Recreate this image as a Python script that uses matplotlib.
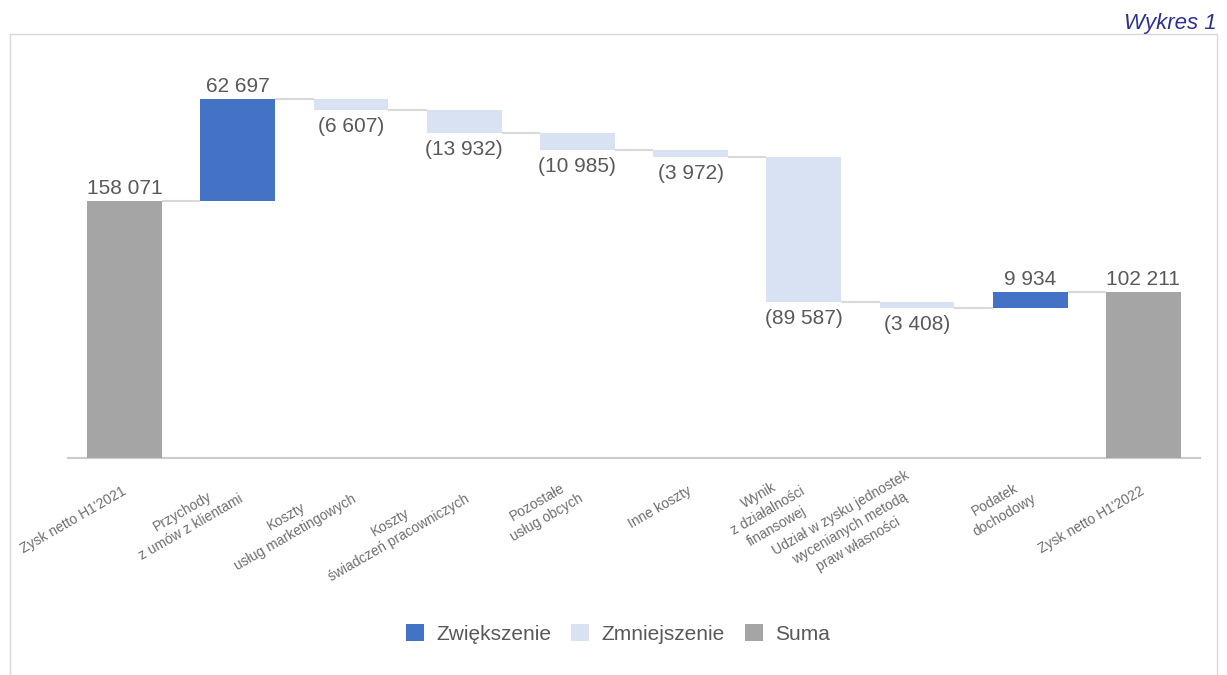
import matplotlib
matplotlib.use("Agg")
import matplotlib.pyplot as plt
from matplotlib.patches import Rectangle, Patch
import numpy as np

plt.rcParams['font.family'] = ['Liberation Sans', 'DejaVu Sans']

categories = [
    "Zysk netto H1'2021",
    "Przychody\nz umów z klientami",
    "Koszty\nusług marketingowych",
    "Koszty\nświadczeń pracowniczych",
    "Pozostałe\nusług obcych",
    "Inne koszty",
    "Wynik\nz działalności\nfinansowej",
    "Udział w zysku jednostek\nwycenianych metodą\npraw własności",
    "Podatek\ndochodowy",
    "Zysk netto H1'2022",
]
values = [158071, 62697, -6607, -13932, -10985, -3972, -89587, -3408, 9934, 102211]
kinds = ["total", "delta", "delta", "delta", "delta", "delta", "delta", "delta", "delta", "total"]

legend_labels = ["Zwiększenie", "Zmniejszenie", "Suma"]
C_UP = "#4472C4"
C_DOWN = "#D9E2F3"
C_TOTAL = "#A5A5A5"
TXT = "#595959"

W, H = 1227, 675
fig = plt.figure(figsize=(W / 100, H / 100), dpi=100)
ax = fig.add_axes([68 / W, (H - 458) / H, 1132 / W, 418 / H])

def fmt(v):
    s = f"{abs(v):,}".replace(",", " ")
    return f"({s})" if v < 0 else s

bw = 0.662
running = 0
bottoms, heights, colors, levels = [], [], [], []
for v, k in zip(values, kinds):
    if k == "total":
        b, h, c = 0, v, C_TOTAL
        running = v
    else:
        if v >= 0:
            b, h, c = running, v, C_UP
        else:
            b, h, c = running + v, -v, C_DOWN
        running += v
    bottoms.append(b); heights.append(h); colors.append(c); levels.append(running)

x = np.arange(len(values))
ax.bar(x, heights, bottom=bottoms, width=bw, color=colors, zorder=3)

# connectors
for i in range(len(values) - 1):
    ax.plot([i + bw / 2, i + 1 - bw / 2], [levels[i], levels[i]],
            color="#D9D9D9", lw=1.5, zorder=2, solid_capstyle="butt")

# value labels
for i, (v, k) in enumerate(zip(values, kinds)):
    if k == "total" or v >= 0:
        ax.annotate(fmt(v), (i, bottoms[i] + heights[i]), xytext=(0, 2),
                    textcoords="offset points", ha="center", va="bottom",
                    fontsize=15, color=TXT)
    else:
        ax.annotate(fmt(v), (i, bottoms[i]), xytext=(0, -5),
                    textcoords="offset points", ha="center", va="top",
                    fontsize=15, color=TXT)

ax.set_xlim(-0.5, 9.5)
ax.set_ylim(0, 257200)
ax.set_yticks([])
for s in ["top", "left", "right"]:
    ax.spines[s].set_visible(False)
ax.spines["bottom"].set_color("#CCCCCC")
ax.spines["bottom"].set_linewidth(1.5)
ax.set_xticks(x)
ax.set_xticklabels(categories)
for lbl in ax.get_xticklabels():
    lbl.set_rotation(30)
    lbl.set_ha("right")
    lbl.set_va("center")
    lbl.set_rotation_mode("anchor")
    lbl.set_fontsize(10)
    lbl.set_color("#6E6E6E")
    lbl.set_multialignment("center")
    lbl.set_linespacing(1.35)
ax.tick_params(axis="x", length=0, pad=23)
ax.patch.set_visible(False)

# frame
fig.patches.append(Rectangle((10 / W, -0.05), 1207 / W, 1 - 34 / H + 0.05,
                             transform=fig.transFigure, fill=False,
                             edgecolor="#D9D9D9", lw=1.0, zorder=0))

fig.text(1217 / W, 1 - 29 / H, "Wykres 1", ha="right", va="baseline",
         style="italic", color="#2E3192", fontsize=16)

handles = [Patch(facecolor=c, edgecolor="none") for c in (C_UP, C_DOWN, C_TOTAL)]
fig.legend(handles, legend_labels, loc="center",
           bbox_to_anchor=(618 / W, 1 - 634 / H), ncol=3, frameon=False,
           fontsize=15, labelcolor=TXT, handlelength=0.87, handleheight=0.87,
           handletextpad=0.58, columnspacing=0.96)

fig.savefig("out.png", dpi=100)
